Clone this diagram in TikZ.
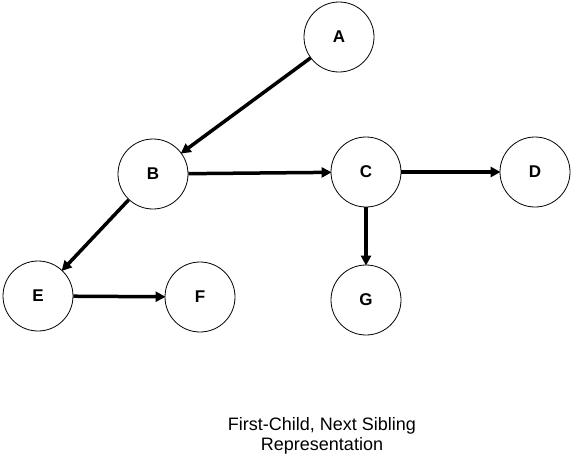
\documentclass[tikz,border=0pt]{standalone}
\usepackage{fontspec}
\setmainfont{Liberation Sans}
\usetikzlibrary{arrows.meta}

\tikzstyle{vertex} = [font={\fontsize{17}{20}\selectfont\bfseries}, shape=circle, minimum size=70pt, inner sep=0, text=black, draw=black, line width=0.8pt]
\tikzstyle{link} = [line width=3.5pt, -{Triangle[length=10pt,width=10pt]}, shorten >=-1pt]
\tikzstyle{caption} = [font={\fontsize{18}{19.5}\selectfont}, align=center]

\begin{document}
\begin{tikzpicture}[x=1pt,y=-1pt]
\useasboundingbox[fill=white] (0,0) rectangle (576,461);

\node [vertex] (A) at (339,37) {A};
\node [vertex] (B) at (153,174) {B};
\node [vertex] (C) at (366,172) {C};
\node [vertex] (D) at (535,172) {D};
\node [vertex] (E) at (38,296) {E};
\node [vertex] (F) at (200,297) {F};
\node [vertex] (G) at (366,300) {G};
\node [caption] (cap) at (322,436) {First-Child, Next Sibling\\Representation};
\draw [link] (A) -- (B);
\draw [link] (B) -- (C);
\draw [link] (C) -- (D);
\draw [link] (C) -- (G);
\draw [link] (B) -- (E);
\draw [link] (E) -- (F);
\end{tikzpicture}
\end{document}
